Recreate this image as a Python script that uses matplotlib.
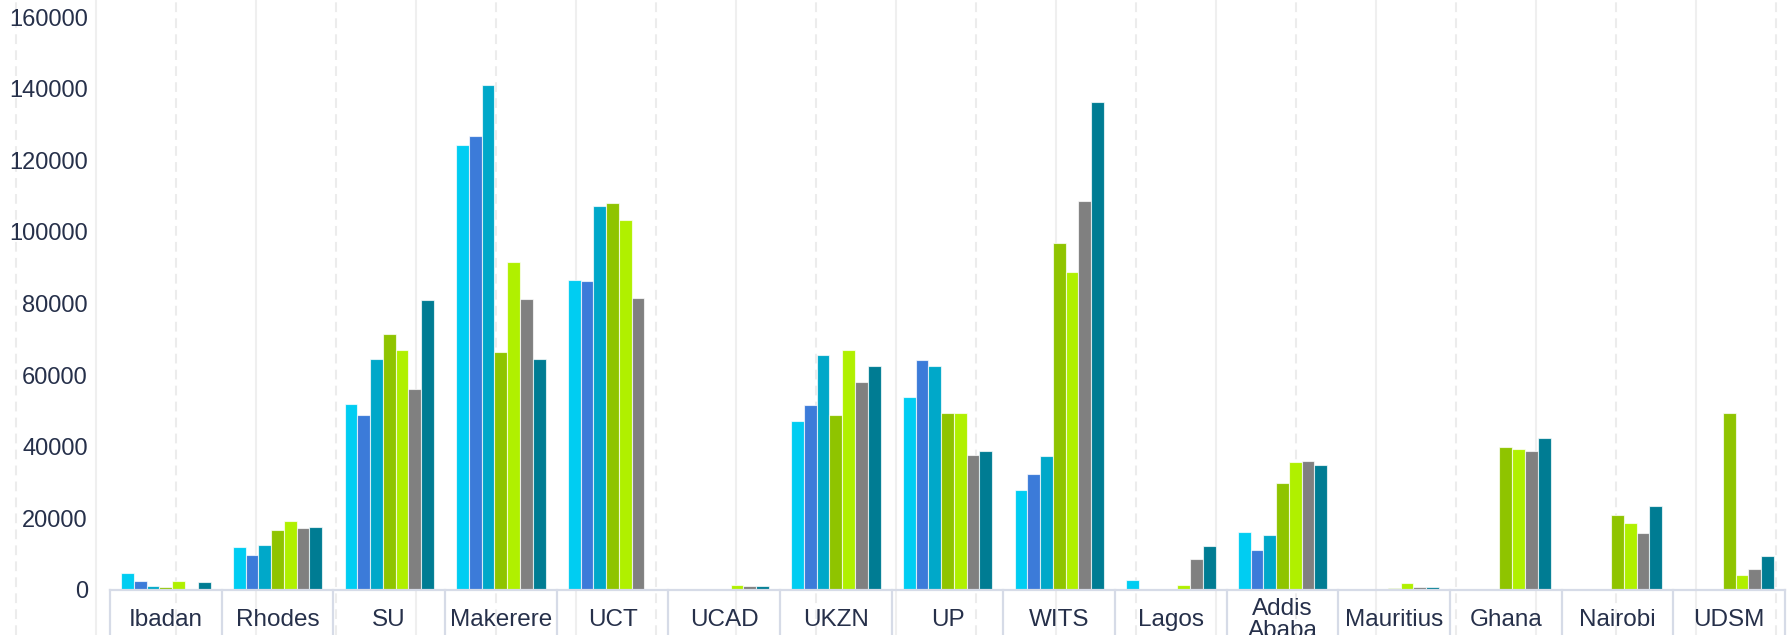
import numpy as np
import matplotlib.pyplot as plt
from matplotlib.lines import Line2D
import matplotlib.transforms as mtransforms

plt.rcParams['font.family'] = ['Liberation Sans', 'DejaVu Sans']
plt.rcParams['lines.scale_dashes'] = False

# universities
categories = ['Ibadan', 'Rhodes', 'SU', 'Makerere', 'UCT', 'UCAD', 'UKZN', 'UP',
              'WITS', 'Lagos', 'Addis\nAbaba', 'Mauritius', 'Ghana', 'Nairobi', 'UDSM']

# seven series, one value per university
s1 = [4800, 12000, 52000, 124200, 86600, 0, 47200, 53900, 27800, 2900, 16200, 0, 0, 0, 0]
s2 = [2400, 9800, 48800, 126800, 86400, 0, 51600, 64100, 32500, 100, 11100, 0, 0, 0, 0]
s3 = [1200, 12600, 64400, 141000, 107200, 0, 65700, 62600, 37300, 100, 15400, 0, 0, 0, 0]
s4 = [800, 16800, 71400, 66400, 108000, 300, 48800, 49400, 96900, 300, 29800, 600, 39800, 20900, 49400]
s5 = [2400, 19400, 67100, 91500, 103400, 1300, 66900, 49400, 88900, 1300, 35800, 1900, 39500, 18800, 4100]
s6 = [0, 17300, 56100, 81300, 81600, 1000, 58000, 37700, 108700, 8700, 36100, 700, 38700, 15800, 5800]
s7 = [2300, 17500, 81000, 64400, 0, 1100, 62500, 38900, 136300, 12200, 34800, 700, 42500, 23400, 9500]
series = [s1, s2, s3, s4, s5, s6, s7]
colors = ['#00CDF2', '#3C7BD9', '#00A8C9', '#8FC400', '#B0F000', '#808080', '#007C93']

W, H = 1789, 635
fig = plt.figure(figsize=(W / 100, H / 100), dpi=100)

# background vertical grid over the whole picture
for k in range(23):
    xf = (16 + 80 * k) / W
    if k % 2 == 0:
        ln = Line2D([xf, xf], [0, 1], transform=fig.transFigure, color='#ececec',
                    lw=1.5, linestyle=(0, (7, 4.5)), zorder=0)
    else:
        ln = Line2D([xf, xf], [0, 1], transform=fig.transFigure, color='#efefef',
                    lw=1.5, zorder=0)
    fig.add_artist(ln)

left, right = 110 / W, 1785 / W
bottom, top = (H - 590) / H, (H - 17) / H
ax = fig.add_axes([left, bottom, right - left, top - bottom])
ax.patch.set_alpha(0)

n = len(categories)
x = np.arange(n)
slot = 0.8 / 7
for i, (vals, c) in enumerate(zip(series, colors)):
    ax.bar(x - 0.4 + slot * (i + 0.5), vals, width=slot, color=c,
           edgecolor=(1, 1, 1, 0.7), linewidth=0.8, zorder=2)

ax.set_xlim(-0.5, n - 0.5)
ax.set_ylim(0, 160000)
ax.set_yticks(np.arange(0, 160001, 20000))
ax.tick_params(axis='y', length=0, pad=16, labelsize=17, labelcolor='#26304A')
ax.set_xticks([])
for sp in ['top', 'right', 'left']:
    ax.spines[sp].set_visible(False)
ax.spines['bottom'].set_color('#d6dbe7')
ax.spines['bottom'].set_linewidth(1.6)

# table-like category boxes
trans = mtransforms.blended_transform_factory(ax.transData, ax.transAxes)
for b in np.arange(-0.5, n, 1.0):
    ax.plot([b, b], [0, -0.2], transform=trans, color='#d6dbe7', lw=1.6,
            clip_on=False, zorder=3)
for xi, lab in zip(x, categories):
    ax.text(xi, -30 / 573, lab, transform=trans, ha='center', va='center',
            fontsize=17.5, color='#26304A', linespacing=1.05)

fig.savefig('out.png', dpi=100)
